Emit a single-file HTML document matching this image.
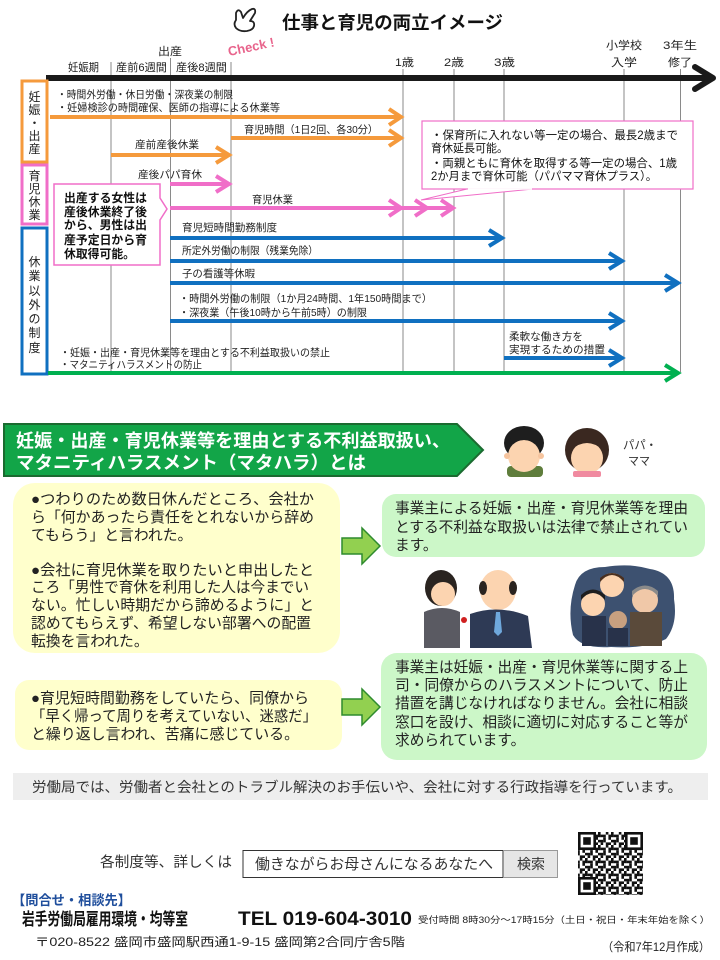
<!DOCTYPE html>
<html><head><meta charset="utf-8">
<style>
html,body{margin:0;padding:0;background:#fff;}
svg{display:block;}
</style></head>
<body>
<svg width="720" height="960" viewBox="0 0 720 960" xmlns="http://www.w3.org/2000/svg" style="font-family:'Liberation Sans','Noto Sans CJK JP',sans-serif">
<defs>
<pattern id="qr" width="13" height="13" patternUnits="userSpaceOnUse">
<rect width="13" height="13" fill="#fff"/>
<rect x="0" y="0" width="2.6" height="5.2" fill="#111"/>
<rect x="2.6" y="2.6" width="5.2" height="2.6" fill="#111"/>
<rect x="7.8" y="0" width="2.6" height="2.6" fill="#111"/>
<rect x="10.4" y="2.6" width="2.6" height="5.2" fill="#111"/>
<rect x="5.2" y="5.2" width="2.6" height="5.2" fill="#111"/>
<rect x="0" y="7.8" width="5.2" height="2.6" fill="#111"/>
<rect x="7.8" y="10.4" width="5.2" height="2.6" fill="#111"/>
<rect x="2.6" y="10.4" width="2.6" height="2.6" fill="#111"/>
</pattern>
</defs>

<!-- Title -->
<path d="M236,13 q2,-5 5,-1 l2,6 q4,-7 9,-9 q4,-1 3,4 l-5,8 q5,0 4,5 q-1,4 -7,5 q-7,1 -11,-3 q-3,-4 0,-8 z" fill="none" stroke="#222" stroke-width="1.8" stroke-linejoin="round"/>
<text x="282" y="29" font-size="18" font-weight="bold" fill="#111" textLength="221" lengthAdjust="spacingAndGlyphs">仕事と育児の両立イメージ</text>
<text x="227" y="51" font-size="13" font-weight="bold" fill="#e8648c" transform="rotate(-12 252 44)">Check !</text>

<!-- Header labels -->
<g font-size="11" fill="#222">
<text x="158" y="55" textLength="24" lengthAdjust="spacingAndGlyphs">出産</text>
<text x="68" y="71" textLength="31" lengthAdjust="spacingAndGlyphs">妊娠期</text>
<text x="116" y="71" textLength="51" lengthAdjust="spacingAndGlyphs">産前6週間</text>
<text x="176" y="71" textLength="51" lengthAdjust="spacingAndGlyphs">産後8週間</text>
<text x="395" y="66" textLength="19" lengthAdjust="spacingAndGlyphs">1歳</text>
<text x="444" y="66" textLength="20" lengthAdjust="spacingAndGlyphs">2歳</text>
<text x="494" y="66" textLength="21" lengthAdjust="spacingAndGlyphs">3歳</text>
<text x="606" y="49" textLength="36" lengthAdjust="spacingAndGlyphs">小学校</text>
<text x="611" y="66" textLength="26" lengthAdjust="spacingAndGlyphs">入学</text>
<text x="663" y="49" textLength="34" lengthAdjust="spacingAndGlyphs">3年生</text>
<text x="668" y="66" textLength="24" lengthAdjust="spacingAndGlyphs">修了</text>
</g>

<!-- Vertical lines -->
<g stroke="#8a8a8a" stroke-width="1">
<line x1="111" y1="62" x2="111" y2="372"/>
<line x1="170.5" y1="58" x2="170.5" y2="372"/>
<line x1="231" y1="62" x2="231" y2="372"/>
<line x1="403" y1="69" x2="403" y2="372"/>
<line x1="454" y1="69" x2="454" y2="372"/>
<line x1="504" y1="69" x2="504" y2="372"/>
<line x1="624" y1="69" x2="624" y2="372"/>
<line x1="680.5" y1="69" x2="680.5" y2="372"/>
</g>

<!-- Axis -->
<line x1="46" y1="78" x2="708" y2="78" stroke="#1a1a1a" stroke-width="6"/>
<polyline points="695,67 713,78 695,89" fill="none" stroke="#1a1a1a" stroke-width="6" stroke-linecap="round" stroke-linejoin="round"/>

<!-- Category boxes -->
<rect x="22" y="81" width="25" height="81" fill="#fff" stroke="#f59a3c" stroke-width="3"/>
<rect x="22" y="165" width="25" height="59" fill="#fff" stroke="#f06ec8" stroke-width="3"/>
<rect x="22" y="228" width="25" height="146" fill="#fff" stroke="#1070c0" stroke-width="3"/>
<g font-size="12" fill="#222" text-anchor="middle">
<text x="34.5" y="101">妊</text>
<text x="34.5" y="114">娠</text>
<text x="34.5" y="127">・</text>
<text x="34.5" y="140">出</text>
<text x="34.5" y="153">産</text>
<text x="34.5" y="180">育</text>
<text x="34.5" y="193">児</text>
<text x="34.5" y="206">休</text>
<text x="34.5" y="219">業</text>
<text x="34.5" y="266">休</text>
<text x="34.5" y="280">業</text>
<text x="34.5" y="295">以</text>
<text x="34.5" y="309">外</text>
<text x="34.5" y="323">の</text>
<text x="34.5" y="337">制</text>
<text x="34.5" y="352">度</text>
</g>

<!-- Orange -->
<g font-size="10.5" fill="#222">
<text x="57" y="98" textLength="176" lengthAdjust="spacingAndGlyphs">・時間外労働・休日労働・深夜業の制限</text>
<text x="57" y="111" textLength="223" lengthAdjust="spacingAndGlyphs">・妊婦検診の時間確保、医師の指導による休業等</text>
<text x="244" y="133" textLength="134" lengthAdjust="spacingAndGlyphs">育児時間（1日2回、各30分）</text>
<text x="135" y="148" textLength="64" lengthAdjust="spacingAndGlyphs">産前産後休業</text>
<text x="138" y="178" textLength="64" lengthAdjust="spacingAndGlyphs">産後パパ育休</text>
<text x="252" y="203" textLength="41" lengthAdjust="spacingAndGlyphs">育児休業</text>
</g>
<g fill="none" stroke="#f59a3c" stroke-width="4" stroke-linejoin="miter">
<line x1="50" y1="117" x2="401" y2="117"/>
<polyline points="389,109 401,117 389,125"/>
<line x1="231" y1="138" x2="401" y2="138"/>
<polyline points="389,130 401,138 389,146"/>
<line x1="111" y1="155" x2="229" y2="155"/>
<polyline points="216,147 229,155 216,163"/>
</g>

<!-- Pink -->
<g fill="none" stroke="#f06ec8" stroke-width="4" stroke-linejoin="miter">
<line x1="170" y1="184" x2="229" y2="184"/>
<polyline points="216,176 229,184 216,192"/>
<line x1="170" y1="208" x2="401" y2="208"/>
<polyline points="389,200 401,208 389,216"/>
<line x1="401" y1="208" x2="427" y2="208"/>
<polyline points="415,200 427,208 415,216"/>
<line x1="427" y1="208" x2="453" y2="208"/>
<polyline points="441,200 453,208 441,216"/>
</g>

<!-- Left callout -->
<path d="M54,184 H160 V198 L167,209 L160,220 V265 H54 Z" fill="#fff" stroke="#f06ec8" stroke-width="1.5"/>
<g font-size="12" font-weight="bold" fill="#111">
<text x="64" y="202" textLength="83" lengthAdjust="spacingAndGlyphs">出産する女性は</text>
<text x="64" y="216" textLength="83" lengthAdjust="spacingAndGlyphs">産後休業終了後</text>
<text x="64" y="229" textLength="83" lengthAdjust="spacingAndGlyphs">から、男性は出</text>
<text x="64" y="244" textLength="83" lengthAdjust="spacingAndGlyphs">産予定日から育</text>
<text x="64" y="258" textLength="71" lengthAdjust="spacingAndGlyphs">休取得可能。</text>
</g>

<!-- Right callout -->
<rect x="422" y="121" width="271" height="68" fill="#fff" stroke="#f06ec8" stroke-width="1.2"/>
<polygon points="467,189 421,200 533,189" fill="#fff" stroke="#f06ec8" stroke-width="1"/>
<line x1="468" y1="189" x2="532" y2="189" stroke="#fff" stroke-width="1.5"/>
<g font-size="11.5" fill="#111">
<text x="431" y="139" textLength="247" lengthAdjust="spacingAndGlyphs">・保育所に入れない等一定の場合、最長2歳まで</text>
<text x="431" y="152" textLength="77" lengthAdjust="spacingAndGlyphs">育休延長可能。</text>
<text x="431" y="167" textLength="246" lengthAdjust="spacingAndGlyphs">・両親ともに育休を取得する等一定の場合、1歳</text>
<text x="431" y="180" textLength="226" lengthAdjust="spacingAndGlyphs">2か月まで育休可能（パパママ育休プラス）。</text>
</g>

<!-- Blue -->
<g font-size="10.5" fill="#222">
<text x="182" y="231" textLength="95" lengthAdjust="spacingAndGlyphs">育児短時間勤務制度</text>
<text x="182" y="254" textLength="136" lengthAdjust="spacingAndGlyphs">所定外労働の制限（残業免除）</text>
<text x="182" y="277" textLength="73" lengthAdjust="spacingAndGlyphs">子の看護等休暇</text>
<text x="179" y="302" textLength="253" lengthAdjust="spacingAndGlyphs">・時間外労働の制限（1か月24時間、1年150時間まで）</text>
<text x="179" y="316" textLength="188" lengthAdjust="spacingAndGlyphs">・深夜業（午後10時から午前5時）の制限</text>
<text x="509" y="340" textLength="74" lengthAdjust="spacingAndGlyphs">柔軟な働き方を</text>
<text x="509" y="353" textLength="96" lengthAdjust="spacingAndGlyphs">実現するための措置</text>
<text x="60" y="356" textLength="270" lengthAdjust="spacingAndGlyphs">・妊娠・出産・育児休業等を理由とする不利益取扱いの禁止</text>
<text x="60" y="368" textLength="142" lengthAdjust="spacingAndGlyphs">・マタニティハラスメントの防止</text>
</g>
<g fill="none" stroke="#1070c0" stroke-width="4" stroke-linejoin="miter">
<line x1="170" y1="238" x2="502" y2="238"/>
<polyline points="489,230 502,238 489,246"/>
<line x1="170" y1="261" x2="622" y2="261"/>
<polyline points="609,253 622,261 609,269"/>
<line x1="170" y1="283" x2="678" y2="283"/>
<polyline points="665,275 678,283 665,291"/>
<line x1="170" y1="321" x2="622" y2="321"/>
<polyline points="609,313 622,321 609,329"/>
<line x1="504" y1="358" x2="622" y2="358"/>
<polyline points="609,350 622,358 609,366"/>
</g>
<g fill="none" stroke="#00b050" stroke-width="4" stroke-linejoin="miter">
<line x1="48" y1="373" x2="678" y2="373"/>
<polyline points="665,365 678,373 665,381"/>
</g>

<!-- Banner -->
<polygon points="4,424 457,424 483,450 457,476 4,476" fill="#12a548" stroke="#1b6b30" stroke-width="2"/>
<g font-size="18" font-weight="bold" fill="#fff">
<text x="16" y="447" textLength="434" lengthAdjust="spacingAndGlyphs">妊娠・出産・育児休業等を理由とする不利益取扱い、</text>
<text x="16" y="469" textLength="350" lengthAdjust="spacingAndGlyphs">マタニティハラスメント（マタハラ）とは</text>
</g>

<!-- Papa -->
<rect x="507" y="466" width="36" height="11" rx="4" fill="#5f7d3c"/>
<ellipse cx="524" cy="443" rx="20" ry="17" fill="#1e1e1e"/>
<circle cx="524" cy="456" r="16" fill="#fcd4b0"/>
<path d="M508,446 q16,-12 32,0 v-6 q-16,-10 -32,0 z" fill="#1e1e1e"/>
<circle cx="507" cy="456" r="3" fill="#f6c49e"/>
<circle cx="541" cy="456" r="3" fill="#f6c49e"/>
<!-- Mama -->
<circle cx="587" cy="450" r="22" fill="#3a2820"/>
<circle cx="587" cy="458" r="16" fill="#fcd4b0"/>
<path d="M571,450 q16,-14 32,0 v-6 q-16,-12 -32,0 z" fill="#3a2820"/>
<rect x="573" y="471" width="28" height="6" rx="2" fill="#f08aa0"/>
<text x="623" y="449" font-size="12" fill="#333" textLength="34" lengthAdjust="spacingAndGlyphs">パパ・</text>
<text x="628" y="465" font-size="12" fill="#333" textLength="22" lengthAdjust="spacingAndGlyphs">ママ</text>

<!-- Yellow box 1 -->
<rect x="13" y="483" width="327" height="170" rx="22" fill="#ffffcc"/>
<g font-size="14.8" fill="#222">
<text x="31" y="504" textLength="283" lengthAdjust="spacingAndGlyphs">●つわりのため数日休んだところ、会社か</text>
<text x="31" y="522" textLength="283" lengthAdjust="spacingAndGlyphs">ら「何かあったら責任をとれないから辞め</text>
<text x="31" y="540">てもらう」と言われた。</text>
<text x="31" y="575" textLength="283" lengthAdjust="spacingAndGlyphs">●会社に育児休業を取りたいと申出したと</text>
<text x="31" y="592" textLength="278" lengthAdjust="spacingAndGlyphs">ころ「男性で育休を利用した人は今までい</text>
<text x="31" y="610" textLength="283" lengthAdjust="spacingAndGlyphs">ない。忙しい時期だから諦めるように」と</text>
<text x="31" y="628" textLength="280" lengthAdjust="spacingAndGlyphs">認めてもらえず、希望しない部署への配置</text>
<text x="31" y="646">転換を言われた。</text>
</g>

<!-- Yellow box 2 -->
<rect x="15" y="680" width="327" height="70" rx="14" fill="#ffffcc"/>
<g font-size="14.8" fill="#222">
<text x="31" y="703" textLength="278" lengthAdjust="spacingAndGlyphs">●育児短時間勤務をしていたら、同僚から</text>
<text x="31" y="721" textLength="286" lengthAdjust="spacingAndGlyphs">「早く帰って周りを考えていない、迷惑だ」</text>
<text x="31" y="739" textLength="268" lengthAdjust="spacingAndGlyphs">と繰り返し言われ、苦痛に感じている。</text>
</g>

<!-- Green arrows -->
<polygon points="342,538 362,538 362,528 380,546 362,564 362,554 342,554" fill="#92d050" stroke="#2e8b2e" stroke-width="1.5"/>
<polygon points="342,699 362,699 362,689 380,707 362,725 362,715 342,715" fill="#92d050" stroke="#2e8b2e" stroke-width="1.5"/>

<!-- Green box 1 -->
<rect x="382" y="494" width="323" height="63" rx="14" fill="#ccf7c8"/>
<g font-size="14.7" fill="#222">
<text x="395" y="513" textLength="293" lengthAdjust="spacingAndGlyphs">事業主による妊娠・出産・育児休業等を理由</text>
<text x="395" y="532" textLength="293" lengthAdjust="spacingAndGlyphs">とする不利益な取扱いは法律で禁止されてい</text>
<text x="395" y="550">ます。</text>
</g>

<!-- Harassment illustration -->
<ellipse cx="441" cy="588" rx="16" ry="18" fill="#2a2420"/>
<circle cx="443" cy="594" r="12" fill="#fcd4b0"/>
<path d="M424,612 q18,-8 36,0 v36 h-36 z" fill="#5a5a62"/>
<ellipse cx="498" cy="590" rx="18" ry="20" fill="#fcd4b0"/>
<ellipse cx="483" cy="588" rx="4" ry="7" fill="#2a2420"/>
<ellipse cx="513" cy="588" rx="4" ry="7" fill="#2a2420"/>
<path d="M470,614 q28,-10 58,2 l4,32 h-62 z" fill="#2e3a55"/>
<polygon points="496,612 500,612 502,632 498,636 494,632" fill="#6fa8dc"/>
<circle cx="464" cy="620" r="3" fill="#d02020"/>
<!-- Group illustration -->
<path d="M575,585 q5,-18 30,-18 q25,-4 45,2 q25,4 24,30 q4,25 -8,40 q-20,10 -55,8 q-30,2 -38,-12 q-6,-25 2,-50 z" fill="#3d5170"/>
<circle cx="612" cy="585" r="12" fill="#fcd4b0"/>
<path d="M600,582 q12,-14 24,0 v-4 q-12,-10 -24,0 z" fill="#4a3020"/>
<circle cx="593" cy="604" r="12" fill="#fcd4b0"/>
<path d="M581,600 q12,-14 24,0 v-5 q-12,-11 -24,0 z" fill="#1e1e1e"/>
<circle cx="645" cy="600" r="13" fill="#f0c8a8"/>
<path d="M632,596 q13,-14 26,0 v-5 q-13,-11 -26,0 z" fill="#8a8a8a"/>
<circle cx="618" cy="620" r="9" fill="#c8a080"/>
<rect x="582" y="616" width="24" height="30" fill="#28324a"/>
<rect x="608" y="628" width="20" height="18" fill="#28324a"/>
<rect x="630" y="612" width="32" height="34" fill="#5a4a3a"/>

<!-- Green box 2 -->
<rect x="381" y="653" width="326" height="107" rx="16" fill="#ccf7c8"/>
<g font-size="14.7" fill="#222">
<text x="395" y="672" textLength="293" lengthAdjust="spacingAndGlyphs">事業主は妊娠・出産・育児休業等に関する上</text>
<text x="395" y="690" textLength="293" lengthAdjust="spacingAndGlyphs">司・同僚からのハラスメントについて、防止</text>
<text x="395" y="708" textLength="293" lengthAdjust="spacingAndGlyphs">措置を講じなければなりません。会社に相談</text>
<text x="395" y="727" textLength="293" lengthAdjust="spacingAndGlyphs">窓口を設け、相談に適切に対応すること等が</text>
<text x="395" y="745">求められています。</text>
</g>

<!-- Gray bar -->
<rect x="13" y="773" width="695" height="27" fill="#eeeeee"/>
<text x="32" y="792" font-size="14" fill="#333" textLength="650" lengthAdjust="spacingAndGlyphs">労働局では、労働者と会社とのトラブル解決のお手伝いや、会社に対する行政指導を行っています。</text>

<!-- Search row -->
<text x="100" y="867" font-size="14.5" fill="#333" textLength="132" lengthAdjust="spacingAndGlyphs">各制度等、詳しくは</text>
<rect x="243" y="850.5" width="260" height="27" fill="#fff" stroke="#333" stroke-width="1"/>
<text x="255" y="869" font-size="14.7" fill="#333" textLength="238" lengthAdjust="spacingAndGlyphs">働きながらお母さんになるあなたへ</text>
<rect x="503.5" y="850.5" width="54" height="27" fill="#e6e6e6" stroke="#999" stroke-width="1"/>
<text x="531" y="869" font-size="14" fill="#333" text-anchor="middle">検索</text>

<!-- QR -->
<rect x="578" y="832" width="65" height="63" fill="url(#qr)"/>
<g>
<rect x="578" y="832" width="18" height="18" fill="#111"/><rect x="580.6" y="834.6" width="12.8" height="12.8" fill="#fff"/><rect x="583.2" y="837.2" width="7.6" height="7.6" fill="#111"/>
<rect x="625" y="832" width="18" height="18" fill="#111"/><rect x="627.6" y="834.6" width="12.8" height="12.8" fill="#fff"/><rect x="630.2" y="837.2" width="7.6" height="7.6" fill="#111"/>
<rect x="578" y="877" width="18" height="18" fill="#111"/><rect x="580.6" y="879.6" width="12.8" height="12.8" fill="#fff"/><rect x="583.2" y="882.2" width="7.6" height="7.6" fill="#111"/>
</g>

<!-- Contact -->
<text x="12" y="905" font-size="13.5" font-weight="bold" fill="#1f4e9c" textLength="119" lengthAdjust="spacingAndGlyphs">【問合せ・相談先】</text>
<text x="22" y="925" font-size="17" font-weight="bold" fill="#111" textLength="166" lengthAdjust="spacingAndGlyphs">岩手労働局雇用環境・均等室</text>
<text x="238" y="925" font-size="19" font-weight="bold" fill="#111" textLength="174" lengthAdjust="spacingAndGlyphs">TEL 019-604-3010</text>
<text x="418" y="923" font-size="9" fill="#222" textLength="292" lengthAdjust="spacingAndGlyphs">受付時間 8時30分～17時15分（土日・祝日・年末年始を除く）</text>
<text x="35" y="946" font-size="12" fill="#222" textLength="370" lengthAdjust="spacingAndGlyphs">〒020-8522 盛岡市盛岡駅西通1-9-15 盛岡第2合同庁舎5階</text>
<text x="602" y="951" font-size="12" fill="#222" textLength="108" lengthAdjust="spacingAndGlyphs">（令和7年12月作成）</text>
</svg>
</body></html>
